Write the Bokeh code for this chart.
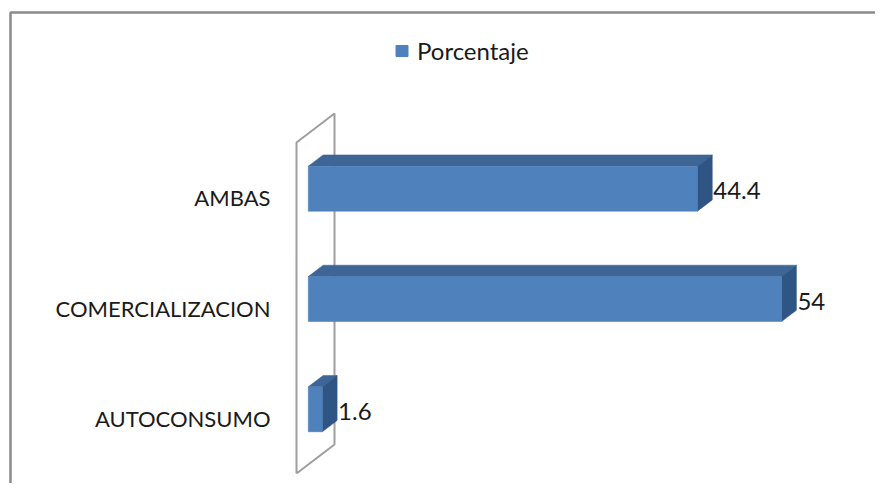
from bokeh.plotting import figure
from bokeh.models import Range1d, ColumnDataSource
from bokeh.core.properties import value
from bokeh.embed import file_html
from bokeh.resources import INLINE

# ---- data ----
categories = ["AUTOCONSUMO", "COMERCIALIZACION", "AMBAS"]
porcentaje = [1.6, 54, 44.4]
value_labels = ["1.6", "54", "44.4"]
series_name = "Porcentaje"

# ---- layout (pixels) ----
W, H = 875, 483
XS = 8.765      # px per percent
YS = 110.3      # px per category band
X0_PX = 296     # px position of value 0 on the front plane
Y0_PX = 417.8   # px (from top) of first category centre
FONT = "Lato"

x_start = -X0_PX / XS
x_end = (W - X0_PX) / XS
y_top = Y0_PX / YS
y_bot = (Y0_PX - H) / YS

def px2x(px):
    return x_start + px / XS

def px2y(py):
    return y_top - py / YS

p = figure(width=W, height=H, output_backend="svg", toolbar_location=None,
           x_range=Range1d(x_start, x_end), y_range=Range1d(y_bot, y_top),
           min_border=0, outline_line_color=None)
p.axis.visible = False
p.grid.visible = False
p.background_fill_color = "white"
p.border_fill_color = "white"

# depth of the 3D wall (data units)
DX = 38 / XS
DY = 29 / YS
F0, F1 = 0.31, 0.70
HALF = 22.5 / YS

n = len(categories)
# back wall
wx = [0, 0, DX, DX, 0]
wy = [-0.5, n - 0.5, n - 0.5 + DY, -0.5 + DY, -0.5]
p.line(wx, wy, line_color="#9e9e9e", line_width=2)

front_xs, front_ys, top_xs, top_ys, side_xs, side_ys = [], [], [], [], [], []
for i, v in enumerate(porcentaje):
    c = i
    fx0, fx1 = F0 * DX, v + F0 * DX
    fyb, fyt = c + F0 * DY - HALF, c + F0 * DY + HALF
    bx0, bx1 = F1 * DX, v + F1 * DX
    byb, byt = c + F1 * DY - HALF, c + F1 * DY + HALF
    front_xs.append([fx0, fx1, fx1, fx0]); front_ys.append([fyb, fyb, fyt, fyt])
    top_xs.append([fx0, fx1, bx1, bx0]); top_ys.append([fyt, fyt, byt, byt])
    side_xs.append([fx1, fx1, bx1, bx1]); side_ys.append([fyb, fyt, byt, byb])

p.patches(top_xs, top_ys, fill_color="#3d6596", line_color="#3d6596", line_width=0.5)
p.patches(side_xs, side_ys, fill_color="#2f5584", line_color="#2f5584", line_width=0.5)
p.patches(front_xs, front_ys, fill_color="#4f81bd", line_color="#4a7ab3", line_width=0.5)

# value labels
lab = ColumnDataSource(dict(
    x=[v + F1 * DX for v in porcentaje],
    y=[i + F0 * DY for i in range(n)],
    t=value_labels))
p.text("x", "y", text="t", source=lab, text_font=value(FONT), text_font_size="24px",
       text_color="#1a1a1a", text_align="left", text_baseline="middle", x_offset=1, y_offset=2)

# category labels
cat = ColumnDataSource(dict(x=[0] * n, y=list(range(n)), t=categories))
p.text("x", "y", text="t", source=cat, text_font=value(FONT), text_font_size="22px",
       text_color="#1a1a1a", text_align="right", text_baseline="middle", x_offset=-26, y_offset=0)

# legend
p.rect([px2x(401.5)], [px2y(50.5)], width=12, height=11, width_units="screen",
       height_units="screen", fill_color="#4f81bd", line_color="#4f81bd")
p.text([px2x(416.5)], [px2y(50)], text=[series_name], text_font=value(FONT),
       text_font_size="24px", text_color="#1a1a1a", text_align="left", text_baseline="middle")

# chart border (top and left visible)
p.line([px2x(10), px2x(10), px2x(W + 10)], [px2y(H + 10), px2y(12), px2y(12)],
       line_color="#8a8a8a", line_width=2.5)

open("out.html", "w").write(file_html(p, INLINE))
